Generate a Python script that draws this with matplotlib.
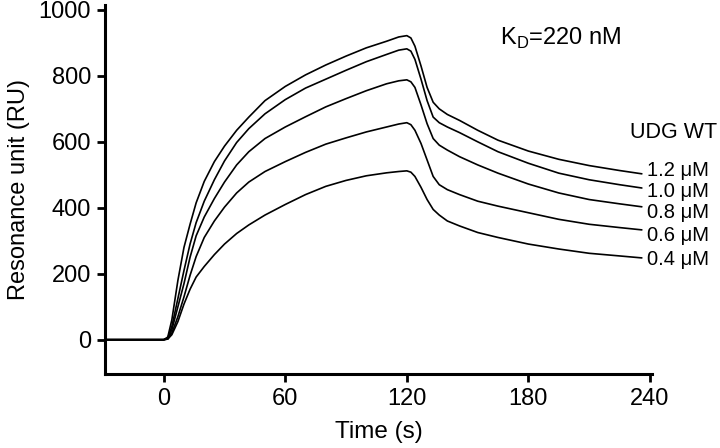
import matplotlib
matplotlib.use("Agg")
import matplotlib.pyplot as plt

plt.rcParams['font.family'] = ['Liberation Sans', 'DejaVu Sans']
plt.rcParams['mathtext.fontset'] = 'custom'
plt.rcParams['mathtext.rm'] = 'Liberation Sans'

time_s = [-29, 0, 2, 4, 7, 10, 13, 16, 20, 25, 30, 36, 42, 50, 60, 70, 80, 90, 100,
          110, 116, 120, 122, 124, 127, 130, 133, 136, 140, 146, 155, 165, 180,
          195, 210, 225, 236]

ru_1_2 = [0, 0, 8, 60, 180, 280, 350, 415, 480, 540, 587, 635, 675, 725, 768, 803, 833,
          860, 885, 905, 918, 922, 915, 890, 830, 765, 720, 700, 683, 665, 635, 605,
          572, 547, 528, 513, 503]
ru_1_0 = [0, 0, 5, 40, 125, 210, 290, 355, 420, 485, 542, 598, 640, 685, 728, 763, 790,
          817, 843, 865, 878, 882, 875, 850, 790, 725, 675, 658, 645, 628, 600, 570,
          535, 505, 485, 470, 460]
ru_0_8 = [0, 0, 3, 30, 100, 170, 250, 315, 372, 428, 478, 530, 570, 610, 645, 676, 706,
          731, 755, 776, 785, 788, 782, 765, 712, 655, 610, 590, 575, 555, 530, 505,
          472, 445, 425, 412, 403]
ru_0_6 = [0, 0, 2, 20, 70, 130, 195, 252, 310, 360, 402, 445, 478, 510, 540, 568, 593,
          612, 630, 645, 654, 658, 652, 635, 595, 545, 495, 470, 455, 440, 420, 405,
          385, 365, 350, 340, 333]
ru_0_4 = [0, 0, 2, 15, 55, 108, 153, 190, 222, 258, 290, 322, 348, 378, 410, 440, 465,
          483, 497, 506, 510, 512, 508, 495, 462, 425, 395, 378, 360, 345, 325, 310,
          290, 275, 262, 254, 248]

series = [ru_1_2, ru_1_0, ru_0_8, ru_0_6, ru_0_4]
conc_labels = ['1.2 μM', '1.0 μM', '0.8 μM', '0.6 μM', '0.4 μM']

x_ticks = [0, 60, 120, 180, 240]
y_ticks = [0, 200, 400, 600, 800, 1000]

# layout: baseline heights of the end labels (axis units)
label_baselines = [495, 432, 368, 300, 226]

fig = plt.figure(figsize=(7.2, 4.48), dpi=100)
ax = fig.add_axes([0.1458, 0.1652, 0.7597, 0.8237])

for vals in series:
    ax.plot(time_s, vals, color='black', lw=1.2, solid_joinstyle='round',
            solid_capstyle='round')

ax.set_xlim(-29, 241)
ax.set_ylim(-104, 1015)
ax.set_xticks(x_ticks)
ax.set_yticks(y_ticks)
ax.tick_params(axis='both', labelsize=17, width=2, length=6, direction='out', pad=4)
for s in ['top', 'right']:
    ax.spines[s].set_visible(False)
for s in ['left', 'bottom']:
    ax.spines[s].set_linewidth(2.2)

ax.set_xlabel('Time (s)', fontsize=17.5, labelpad=8)
ax.set_ylabel('Resonance unit (RU)', fontsize=17, labelpad=6)

for yb, lab in zip(label_baselines, conc_labels):
    ax.text(238.5, yb, lab, fontsize=14.5, ha='left', va='baseline', clip_on=False)

ax.text(230, 611, 'UDG WT', fontsize=15.5, ha='left', va='baseline', clip_on=False)
ax.text(166, 894, r'K$_\mathrm{D}$=220 nM', fontsize=17, ha='left', va='baseline')

fig.savefig('out.png', dpi=100)
